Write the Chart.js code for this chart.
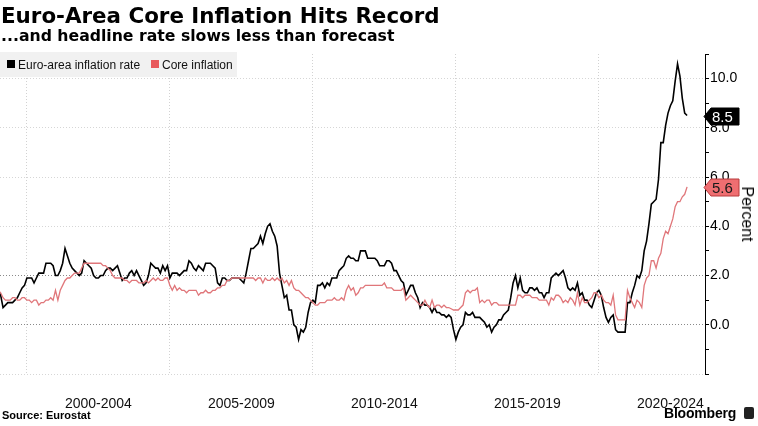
<!DOCTYPE html>
<html>
<head>
<meta charset="utf-8">
<script src="https://cdn.jsdelivr.net/npm/chart.js@4.4.1/dist/chart.umd.min.js"></script>
<style>
html,body{margin:0;padding:0;background:#fff;}
#wrap{position:relative;width:758px;height:426px;overflow:hidden;background:#fff;}
#c{position:absolute;left:0;top:0;}
.t{position:absolute;white-space:nowrap;line-height:1;color:#000;}
#title{left:1px;top:5px;font-weight:bold;font-size:21.4px;font-family:"DejaVu Sans";}
#sub{left:1px;top:28px;font-weight:bold;font-size:15.7px;font-family:"DejaVu Sans";}
#legend{position:absolute;left:0;top:52px;width:237px;height:25px;background:#f1f1f1;}
.sq{position:absolute;width:8px;height:8px;top:8px;}
.lt{position:absolute;top:6.5px;font-size:12px;font-family:"Liberation Sans";line-height:1;white-space:nowrap;color:#111;}
#source{left:2px;top:410px;font-weight:bold;font-size:11px;font-family:"Liberation Sans";}
#bbg{left:664px;top:406px;font-weight:bold;font-size:14px;font-family:"Liberation Sans";letter-spacing:-0.2px;}
#icon{position:absolute;left:744px;top:407px;width:10px;height:12px;background:#222;border-radius:2px;}
#percent{left:747px;top:214px;font-size:16px;font-family:"Liberation Sans";transform:translate(-50%,-50%) rotate(90deg);}
</style>
</head>
<body>
<div id="wrap">
  <canvas id="c" width="758" height="426"></canvas>
  <div class="t" id="title">Euro-Area Core Inflation Hits Record</div>
  <div class="t" id="sub">...and headline rate slows less than forecast</div>
  <div id="legend">
    <div class="sq" style="left:7px;background:#000;"></div>
    <div class="lt" id="lg0" style="left:18px;"></div>
    <div class="sq" style="left:151px;background:#e8595c;"></div>
    <div class="lt" id="lg1" style="left:162px;"></div>
  </div>
  <div class="t" id="percent">Percent</div>
  <div class="t" id="source">Source: Eurostat</div>
  <div class="t" id="bbg">Bloomberg</div>
  <div id="icon"></div>
</div>
<script>
// ---- data (monthly, Jan 1999 .. Feb 2023) ----
const startYear = 1999;
const seriesNames = ['Euro-area inflation rate', 'Core inflation'];
const headline = [
  1.4, 1.2, 0.7, 0.8, 0.9, 0.9, 0.9, 1.0, 1.1, 1.3, 1.5, 1.6,
  1.9, 1.9, 1.9, 1.7, 1.9, 2.1, 2.1, 2.1, 2.5, 2.5, 2.5, 2.4,
  2.0, 2.0, 2.2, 2.5, 3.1, 2.8, 2.5, 2.3, 2.2, 2.1, 2.0, 2.1,
  2.6, 2.5, 2.4, 2.3, 2.0, 1.9, 1.9, 2.0, 2.0, 2.2, 2.3, 2.3,
  2.2, 2.3, 2.4, 2.1, 1.8, 1.9, 1.9, 2.1, 2.2, 2.0, 2.2, 2.0,
  1.8, 1.6, 1.7, 2.0, 2.5, 2.4, 2.3, 2.3, 2.1, 2.4, 2.2, 2.4,
  1.9, 2.1, 2.1, 2.1, 2.0, 2.1, 2.2, 2.2, 2.6, 2.5, 2.3, 2.2,
  2.4, 2.3, 2.2, 2.5, 2.5, 2.5, 2.4, 2.3, 1.7, 1.6, 1.9, 1.9,
  1.8, 1.8, 1.9, 1.9, 1.9, 1.9, 1.8, 1.7, 2.1, 2.6, 3.1, 3.1,
  3.2, 3.3, 3.6, 3.3, 3.7, 4.0, 4.1, 3.8, 3.6, 3.2, 2.1, 1.6,
  1.1, 1.2, 0.6, 0.6, 0.0, -0.1, -0.6, -0.2, -0.3, -0.1, 0.5, 0.9,
  1.0, 0.9, 1.6, 1.6, 1.7, 1.5, 1.7, 1.6, 1.9, 1.9, 1.9, 2.2,
  2.3, 2.4, 2.7, 2.8, 2.7, 2.7, 2.6, 2.6, 3.0, 3.0, 3.0, 2.7,
  2.7, 2.7, 2.7, 2.6, 2.4, 2.4, 2.4, 2.6, 2.6, 2.5, 2.2, 2.2,
  2.0, 1.8, 1.7, 1.2, 1.4, 1.6, 1.6, 1.3, 1.1, 0.7, 0.9, 0.8,
  0.8, 0.7, 0.5, 0.7, 0.5, 0.5, 0.4, 0.4, 0.3, 0.4, 0.3, -0.2,
  -0.6, -0.3, -0.1, 0.0, 0.5, 0.4, 0.4, 0.5, 0.3, 0.3, 0.3, 0.2,
  0.1, -0.1, 0.0, -0.3, -0.1, 0.0, 0.2, 0.2, 0.4, 0.5, 0.6, 1.1,
  1.7, 2.0, 1.5, 1.9, 1.4, 1.3, 1.3, 1.5, 1.5, 1.4, 1.5, 1.3,
  1.3, 1.1, 1.3, 1.3, 1.9, 2.0, 2.1, 2.0, 2.1, 2.2, 1.9, 1.5,
  1.4, 1.5, 1.4, 1.7, 1.2, 1.3, 1.0, 1.0, 0.8, 0.7, 1.0, 1.3,
  1.4, 1.2, 0.7, 0.3, 0.1, 0.3, 0.4, -0.2, -0.3, -0.3, -0.3, -0.3,
  0.9, 0.9, 1.3, 1.6, 2.0, 1.9, 2.2, 3.0, 3.4, 4.1, 4.9, 5.0,
  5.1, 5.9, 7.4, 7.4, 8.1, 8.6, 8.9, 9.1, 9.9, 10.6, 10.1, 9.2,
  8.6, 8.5
];
const core = [
  1.4, 1.3, 1.1, 1.0, 1.0, 1.0, 1.1, 1.1, 1.0, 1.0, 1.1, 1.1,
  1.0, 1.0, 0.9, 1.0, 1.0, 0.8, 0.9, 0.9, 1.0, 1.0, 1.1, 1.0,
  1.4, 1.0, 1.4, 1.6, 1.8, 1.9, 1.9, 2.0, 2.1, 2.1, 2.1, 2.3,
  2.5, 2.5, 2.5, 2.5, 2.5, 2.5, 2.5, 2.5, 2.4, 2.4, 2.3, 2.2,
  2.0, 1.9, 1.9, 1.9, 1.9, 1.8, 1.8, 1.7, 1.8, 1.8, 1.8, 1.7,
  1.7, 1.7, 1.8, 1.7, 1.8, 1.9, 1.8, 1.9, 1.8, 1.8, 1.9, 1.9,
  1.6, 1.4, 1.6, 1.4, 1.5, 1.4, 1.4, 1.3, 1.4, 1.4, 1.4, 1.4,
  1.2, 1.3, 1.3, 1.4, 1.3, 1.3, 1.4, 1.4, 1.5, 1.5, 1.6, 1.6,
  1.8, 1.8, 1.9, 1.9, 1.9, 1.9, 1.9, 1.9, 1.9, 1.9, 1.9, 1.9,
  1.8, 1.9, 1.9, 1.7, 1.9, 1.8, 1.8, 1.9, 1.8, 1.9, 1.8, 1.9,
  1.7, 1.8, 1.6, 1.8, 1.5, 1.4, 1.4, 1.3, 1.2, 1.1, 1.1, 1.0,
  0.9, 0.8, 0.8, 0.9, 0.9, 0.9, 1.0, 1.0, 1.0, 1.1, 1.0, 1.0,
  1.1, 1.0, 1.4, 1.6, 1.4, 1.5, 1.2, 1.3, 1.5, 1.5, 1.6, 1.6,
  1.6, 1.6, 1.6, 1.6, 1.6, 1.6, 1.7, 1.5, 1.5, 1.5, 1.4, 1.4,
  1.4, 1.4, 1.5, 1.0, 1.1, 1.2, 1.1, 1.0, 0.9, 0.8, 0.8, 1.0,
  0.8, 0.7, 1.0, 0.7, 0.8, 0.8, 0.7, 0.8, 0.7, 0.7, 0.65, 0.6,
  0.6, 0.6, 0.7, 0.8, 1.3, 1.4, 1.3, 1.4, 1.4, 1.5, 0.9, 1.0,
  0.9, 1.0, 1.0, 0.8, 0.9, 0.9, 0.8, 0.8, 0.8, 0.8, 0.8, 0.8,
  0.8, 0.8, 1.2, 1.2, 1.1, 1.2, 1.2, 1.2, 1.1, 1.1, 1.1, 1.0,
  1.0, 1.0, 1.0, 0.8, 1.1, 1.0, 1.2, 1.2, 1.1, 0.9, 1.0, 0.9,
  1.1, 1.0, 0.8, 1.3, 0.8, 1.1, 0.9, 0.9, 1.0, 1.1, 1.3, 1.3,
  1.1, 1.2, 1.0, 0.9, 0.9, 0.8, 1.2, 0.4, 0.2, 0.2, 0.2, 0.2,
  1.4, 1.1, 0.9, 0.7, 1.0, 0.9, 0.7, 1.6, 1.9, 2.0, 2.6, 2.6,
  2.3, 2.7, 2.9, 3.5, 3.8, 3.7, 4.0, 4.3, 4.8, 5.0, 5.0, 5.2,
  5.3, 5.6
];
const xTickLabels = ['2000-2004', '2005-2009', '2010-2014', '2015-2019', '2020-2024'];
const xLabelCenters = [2002.5, 2007.5, 2012.5, 2017.5, 2022.5];
const xGridYears = [2000, 2005, 2010, 2015, 2020];
const yTicks = [-2, -1, 0, 1, 2, 3, 4, 5, 6, 7, 8, 9, 10, 11];
const yLabelled = [0, 2, 4, 6, 8, 10];

document.getElementById('lg0').textContent = seriesNames[0];
document.getElementById('lg1').textContent = seriesNames[1];

const toPoints = arr => arr.map((v, i) => ({ x: startYear + i / 12, y: v }));

const tagPlugin = {
  id: 'tags',
  afterDraw(chart) {
    const ctx = chart.ctx;
    const ys = chart.scales.y;
    const L = chart.chartArea.right;
    const items = [
      { v: headline[headline.length - 1], fill: '#000000', stroke: '#000000', text: '#ffffff' },
      { v: core[core.length - 1], fill: '#ef6e71', stroke: '#b83a3d', text: '#1a1a1a' }
    ];
    items.forEach(it => {
      const yc = Math.round(ys.getPixelForValue(it.v)) + 0.5;
      ctx.save();
      ctx.beginPath();
      ctx.moveTo(L - 1, yc);
      ctx.lineTo(L + 6, yc - 8.5);
      ctx.lineTo(L + 34, yc - 8.5);
      ctx.lineTo(L + 34, yc + 8.5);
      ctx.lineTo(L + 6, yc + 8.5);
      ctx.closePath();
      ctx.fillStyle = it.fill;
      ctx.fill();
      ctx.strokeStyle = it.stroke;
      ctx.lineWidth = 1;
      ctx.stroke();
      ctx.fillStyle = it.text;
      ctx.font = '15px "Liberation Sans"';
      ctx.textBaseline = 'middle';
      ctx.textAlign = 'left';
      ctx.fillText(it.v.toFixed(1), L + 7, yc + 1);
      ctx.restore();
    });
  }
};

new Chart(document.getElementById('c'), {
  type: 'line',
  data: {
    datasets: [
      { label: seriesNames[1], data: toPoints(core), borderColor: '#e0767a', borderWidth: 1.3, pointRadius: 0, tension: 0, fill: false },
      { label: seriesNames[0], data: toPoints(headline), borderColor: '#000000', borderWidth: 1.6, pointRadius: 0, tension: 0, fill: false }
    ]
  },
  options: {
    responsive: false,
    animation: false,
    devicePixelRatio: 1,
    layout: { padding: { top: 54, left: 0, right: 0, bottom: 0 } },
    plugins: { legend: { display: false }, tooltip: { enabled: false }, title: { display: false } },
    scales: {
      x: {
        type: 'linear',
        min: 1999.06,
        max: 2023.71,
        afterBuildTicks: s => {
          s.ticks = xGridYears.concat(xLabelCenters).sort((a, b) => a - b).map(v => ({ value: v }));
        },
        afterFit: s => { s.height = 52; },
        grid: {
          color: c => (c.tick && xGridYears.includes(c.tick.value)) ? '#d2d2d2' : 'rgba(0,0,0,0)',
          drawTicks: false,
          lineWidth: 1
        },
        border: { display: false, dash: [1, 2] },
        ticks: {
          autoSkip: false,
          maxRotation: 0,
          minRotation: 0,
          padding: 22,
          color: '#111',
          font: { family: 'Liberation Sans', size: 14 },
          callback: v => {
            const k = xLabelCenters.indexOf(v);
            return k >= 0 ? xTickLabels[k] : '';
          }
        }
      },
      y: {
        position: 'right',
        min: -2,
        max: 11,
        afterBuildTicks: s => { s.ticks = yTicks.map(v => ({ value: v })); },
        afterFit: s => { s.width = 53; },
        grid: {
          color: c => {
            const v = c.tick ? c.tick.value : null;
            if (v === 0 || v === 2) return '#8a8a8a';
            if (v !== null && v % 2 === 0) return '#d6d6d6';
            return 'rgba(0,0,0,0)';
          },
          lineWidth: 1,
          drawTicks: true,
          tickLength: 4,
          tickColor: '#000',
          tickWidth: 1,
          tickBorderDash: []
        },
        border: { display: true, color: '#000', width: 1, dash: [1, 2] },
        ticks: {
          padding: 1,
          color: '#000',
          font: { family: 'Liberation Sans', size: 14 },
          callback: v => yLabelled.includes(v) ? v.toFixed(1) : ''
        }
      }
    }
  },
  plugins: [tagPlugin]
});
</script>
</body>
</html>
